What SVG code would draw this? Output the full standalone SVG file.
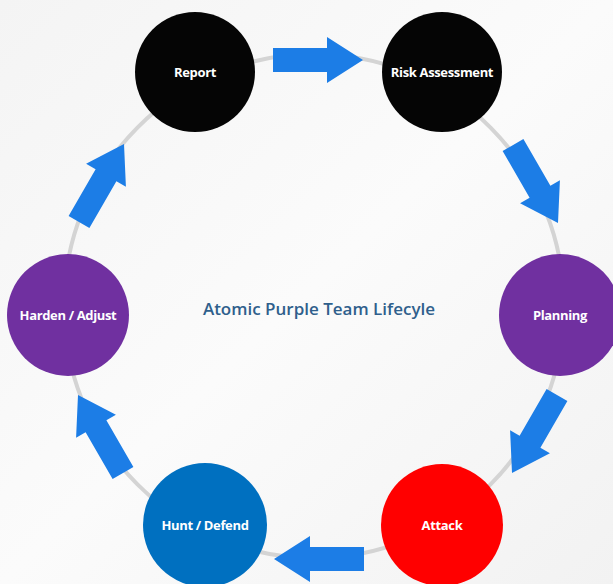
<svg xmlns="http://www.w3.org/2000/svg" width="613" height="584" viewBox="0 0 613 584">
  <defs>
    <linearGradient id="bg" x1="0" y1="0" x2="1" y2="1">
      <stop offset="0" stop-color="#f4f4f4"/>
      <stop offset="0.5" stop-color="#fbfbfb"/>
      <stop offset="1" stop-color="#f2f2f2"/>
    </linearGradient>
    <path id="arr" d="M0,-12 H54 V-23 L90,0 L54,23 V12 H0 Z"/>
  </defs>
  <style>
    .node text { font-family: "Open Sans", "Liberation Sans", sans-serif; font-weight: 700; font-size: 13px; fill: #ffffff; text-anchor: middle; letter-spacing: -0.35px; }
    .arrow { fill: #1c7de6; }
    .ring { fill: none; stroke: #d4d4d4; stroke-width: 4; }
    .title { font-family: "Open Sans", "Liberation Sans", sans-serif; font-weight: 600; font-size: 17px; fill: #2f5f8c; text-anchor: middle; }
  </style>
  <rect width="613" height="584" fill="url(#bg)"/>
  <g id="connectors">
    <ellipse class="ring" cx="314" cy="306" rx="250" ry="252"/>
    <use href="#arr" class="arrow" transform="translate(273,60)"/>
    <use href="#arr" class="arrow" transform="translate(513,145) rotate(60)"/>
    <use href="#arr" class="arrow" transform="translate(557,395) rotate(120)"/>
    <use href="#arr" class="arrow" transform="translate(364,559) rotate(180)"/>
    <use href="#arr" class="arrow" transform="translate(123,473) rotate(-120)"/>
    <use href="#arr" class="arrow" transform="translate(79,222) rotate(-60)"/>
  </g>
  <g id="report" class="node">
    <circle cx="195" cy="72" r="60" fill="#050505"/>
    <text x="195" y="77">Report</text>
  </g>
  <g id="risk-assessment" class="node">
    <circle cx="442" cy="72" r="60" fill="#050505"/>
    <text x="442" y="77">Risk Assessment</text>
  </g>
  <g id="planning" class="node">
    <circle cx="560" cy="315" r="61" fill="#7030a0"/>
    <text x="560" y="320">Planning</text>
  </g>
  <g id="attack" class="node">
    <circle cx="442" cy="525" r="61" fill="#ff0000"/>
    <text x="442" y="530">Attack</text>
  </g>
  <g id="hunt-defend" class="node">
    <circle cx="205" cy="525" r="62" fill="#0070c0"/>
    <text x="205" y="530">Hunt / Defend</text>
  </g>
  <g id="harden-adjust" class="node">
    <circle cx="68" cy="315" r="61" fill="#7030a0"/>
    <text x="68" y="320">Harden / Adjust</text>
  </g>
  <text class="title" x="319" y="315">Atomic Purple Team Lifecyle</text>
</svg>
